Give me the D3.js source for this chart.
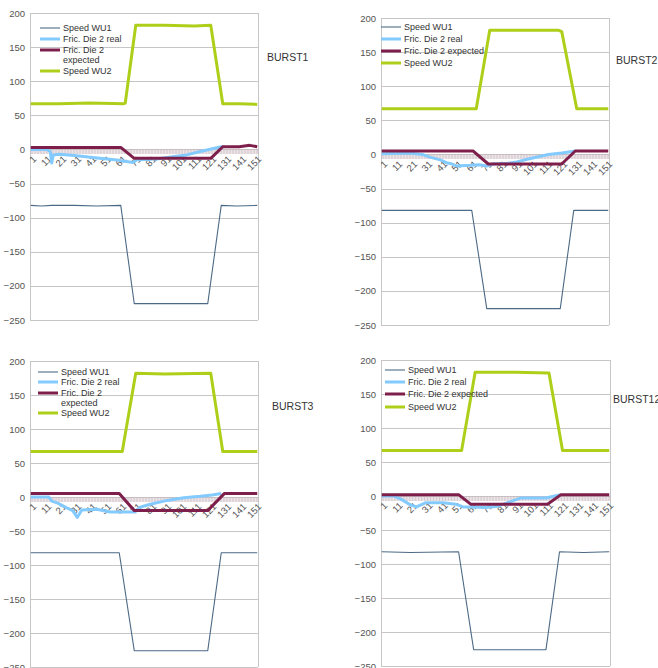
<!DOCTYPE html>
<html>
<head>
<meta charset="utf-8">
<script src="https://cdn.jsdelivr.net/npm/d3@7"></script>
<style>
  body { margin: 0; background: #fff; }
  svg { font-family: "Liberation Sans", Arial, sans-serif; }
  .tick-label { fill: #555; font-size: 9.5px; }
  .legend-text { fill: #333; font-size: 9px; }
  .burst { fill: #333; font-size: 10.5px; }
</style>
</head>
<body>
<div id="container"></div>
<script>
// series names, as in the legends
var seriesNames = ['Speed WU1', 'Fric. Die 2 real', 'Fric. Die 2 expected', 'Speed WU2'];
var burstNames = ['BURST1', 'BURST2', 'BURST3', 'BURST12'];

// y ticks and x category labels (every 10th sample is labelled)
var yTicks = [200, 150, 100, 50, 0, -50, -100, -150, -200, -250];
var xTickLabels = [1, 11, 21, 31, 41, 51, 61, 71, 81, 91, 101, 111, 121, 131, 141, 151];
var nCategories = 152;

// values: [sample, value] where the line changes
var burst1Wu1 = [[1,-82],[8,-83],[15,-82],[30,-82],[45,-83],[61,-82],[70,-226],[95,-226],[119,-226],[128,-82],[138,-83],[152,-82]];
var burst1Real = [[1,0],[12,0],[14,-3],[15,-20],[16,-8],[20,-7],[30,-9],[47,-13],[60,-16],[69,-19],[72,-15],[85,-14],[98,-10],[105,-8],[114,-3],[122,1],[128,4],[130,4]];
var burst1Expected = [[1,3],[61,3],[70,-13],[121,-13],[129,4],[140,4],[147,6],[152,4]];
var burst1Wu2 = [[1,67],[20,67],[40,68],[63,67],[64,68],[71,182],[90,182],[110,181],[121,182],[129,67],[140,67],[152,66]];

var burst2Wu1 = [[1,-82],[61,-82],[71,-226],[120,-226],[129,-82],[152,-82]];
var burst2Real = [[1,1],[20,2],[28,0],[33,-4],[40,-8],[44,-12],[48,-14],[51,-17],[60,-16],[66,-15],[71,-17],[75,-14],[85,-13],[91,-11],[98,-7],[104,-4],[112,0],[121,2],[127,4],[130,5]];
var burst2Expected = [[1,5],[62,5],[72,-14],[121,-14],[130,5],[152,5]];
var burst2Wu2 = [[1,67],[64,67],[73,182],[100,182],[119,182],[121,180],[131,67],[152,67]];

var burst3Wu1 = [[1,-82],[60,-82],[70,-226],[119,-226],[128,-82],[152,-82]];
var burst3Real = [[1,0],[13,0],[15,-6],[19,-9],[25,-16],[29,-20],[32,-30],[35,-19],[45,-18],[54,-22],[70,-22],[74,-15],[80,-11],[92,-5],[103,-1],[114,1],[122,3],[128,5]];
var burst3Expected = [[1,5],[60,5],[70,-20],[119,-20],[130,5],[152,5]];
var burst3Wu2 = [[1,67],[62,67],[71,182],[90,181],[121,182],[129,67],[152,67]];

var burst12Wu1 = [[1,-82],[20,-83],[52,-82],[62,-226],[110,-226],[119,-82],[135,-83],[152,-82]];
var burst12Real = [[1,0],[9,0],[14,-5],[20,-13],[24,-16],[30,-10],[42,-10],[50,-12],[55,-16],[60,-16],[70,-17],[78,-15],[87,-8],[93,-3],[110,-3],[118,1],[120,2]];
var burst12Expected = [[1,2],[52,2],[60,-12],[111,-12],[120,2],[152,2]];
var burst12Wu2 = [[1,67],[54,67],[63,182],[90,182],[112,181],[121,67],[152,67]];

var colors = ['#4c6a86', '#83caff', '#7e1f4b', '#aecf1a'];
var widths = [1.1, 3, 3, 3];

var width = 658, height = 668;

var svg = d3.select('#container').append('svg')
	.attr('width', width)
	.attr('height', height);

// panel layout (plot area in pixels)
var panels = [
	{ left: 30, right: 258, top: 13, bottom: 320,
	  series: [burst1Wu1, burst1Real, burst1Expected, burst1Wu2],
	  legend: { x: 40, y: 28, rows: [0, 11, 22, 43], wrap: true },
	  label: { x: 267, y: 61 } },
	{ left: 381, right: 609, top: 18, bottom: 325,
	  series: [burst2Wu1, burst2Real, burst2Expected, burst2Wu2],
	  legend: { x: 381, y: 27, rows: [0, 12, 24, 36], wrap: false },
	  label: { x: 616, y: 64 } },
	{ left: 30, right: 258, top: 361, bottom: 667,
	  series: [burst3Wu1, burst3Real, burst3Expected, burst3Wu2],
	  legend: { x: 38, y: 372, rows: [0, 10, 21, 41], wrap: true },
	  label: { x: 272, y: 410 } },
	{ left: 381, right: 610, top: 360, bottom: 666,
	  series: [burst12Wu1, burst12Real, burst12Expected, burst12Wu2],
	  legend: { x: 385, y: 370, rows: [0, 12, 24, 37], wrap: false },
	  label: { x: 613, y: 403 } }
];

panels.forEach(function(p, pi) {

	var g = svg.append('g');

	var x = d3.scaleLinear().domain([0.5, nCategories + 0.5]).range([p.left, p.right]);
	var y = d3.scaleLinear().domain([-250, 200]).range([p.bottom, p.top]);

	// horizontal grid
	g.selectAll('.grid')
		.data(yTicks).enter()
		.append('line')
			.attr('x1', p.left)
			.attr('x2', p.right)
			.attr('y1', function(d) { return Math.round(y(d)) + 0.5; })
			.attr('y2', function(d) { return Math.round(y(d)) + 0.5; })
			.style('stroke', '#c6c6c6')
			.style('stroke-width', 1);

	// left and right frame
	[p.left, p.right].forEach(function(px) {
		g.append('line')
			.attr('x1', px + 0.5).attr('x2', px + 0.5)
			.attr('y1', p.top).attr('y2', p.bottom)
			.style('stroke', '#c6c6c6');
	});

	// y axis labels
	var yAxis = d3.axisLeft(y).tickValues(yTicks).tickSize(0).tickPadding(5);
	var ya = g.append('g')
		.attr('transform', 'translate(' + p.left + ',0)')
		.call(yAxis);
	ya.select('.domain').remove();
	ya.selectAll('text').attr('class', 'tick-label').attr('font-size', null).attr('font-family', null);

	// x axis crossing at 0, one tick per sample
	var cats = d3.range(1, nCategories + 1);
	var xAxis = d3.axisBottom(x).tickValues(cats).tickSize(5).tickFormat('');
	var xa = g.append('g')
		.attr('transform', 'translate(0,' + Math.round(y(0)) + ')')
		.call(xAxis);
	xa.select('.domain').remove();
	xa.selectAll('line').style('stroke', '#c9b9c0').style('stroke-width', 0.8);

	g.selectAll('.xlab')
		.data(xTickLabels).enter()
		.append('text')
			.attr('class', 'tick-label')
			.attr('text-anchor', 'end')
			.attr('dy', '0.35em')
			.attr('transform', function(d) {
				return 'translate(' + (x(d) + 4) + ',' + (y(0) + 8) + ') rotate(-45)';
			})
			.text(function(d) { return d; });

	// series lines
	var line = d3.line()
		.x(function(d) { return x(d[0]); })
		.y(function(d) { return y(d[1]); });

	p.series.forEach(function(s, si) {
		g.append('path')
			.datum(s)
			.attr('d', line)
			.style('fill', 'none')
			.style('stroke', colors[si])
			.style('stroke-width', widths[si])
			.style('stroke-linejoin', 'round');
	});

	// legend
	var leg = g.append('g')
		.attr('transform', 'translate(' + p.legend.x + ',' + p.legend.y + ')');
	seriesNames.forEach(function(name, si) {
		var row = leg.append('g').attr('transform', 'translate(0,' + p.legend.rows[si] + ')');
		row.append('line')
			.attr('x1', 0).attr('x2', 20)
			.style('stroke', colors[si])
			.style('stroke-width', widths[si]);
		var t = row.append('text')
			.attr('class', 'legend-text')
			.attr('x', 23)
			.attr('dy', '0.35em');
		if (si == 2 && p.legend.wrap) {
			t.text('Fric. Die 2');
			row.append('text')
				.attr('class', 'legend-text')
				.attr('x', 23)
				.attr('y', 10)
				.attr('dy', '0.35em')
				.text('expected');
		} else {
			t.text(name);
		}
	});

	svg.append('text')
		.attr('class', 'burst')
		.attr('x', p.label.x)
		.attr('y', p.label.y)
		.text(burstNames[pi]);
});
</script>
</body>
</html>
